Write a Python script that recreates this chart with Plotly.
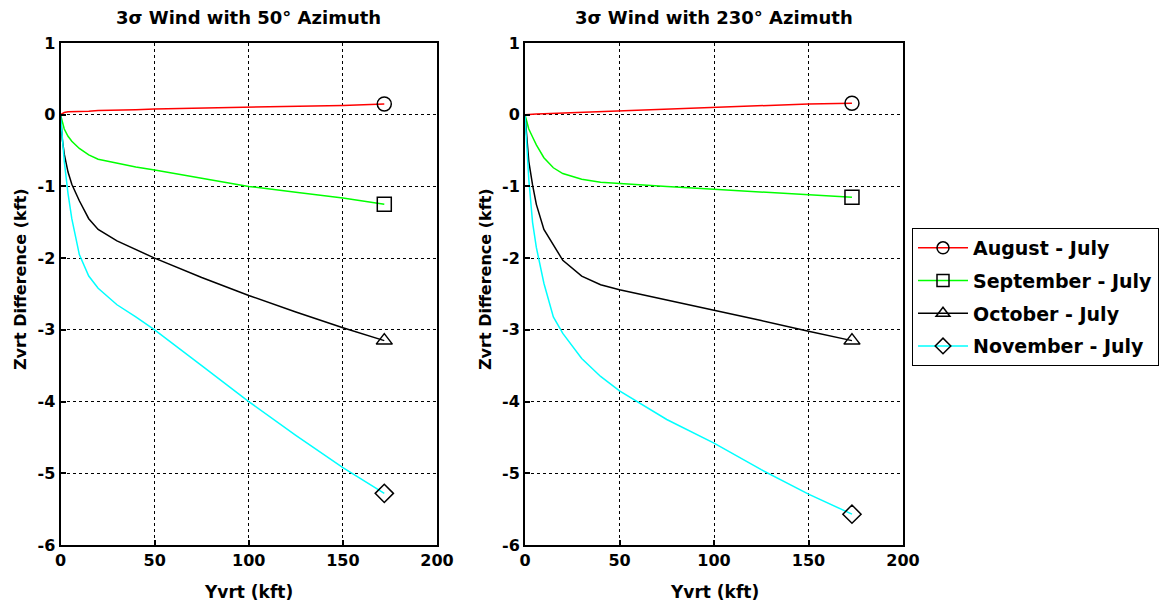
import plotly.graph_objects as go

# ---------------- data ----------------
x_left = [0, 1, 2, 4, 6, 10, 15, 20, 30, 40, 50, 75, 100, 125, 150, 172]
aug_left = [0, 0.02, 0.03, 0.04, 0.04, 0.05, 0.05, 0.06, 0.06, 0.07, 0.08, 0.09, 0.11, 0.12, 0.13, 0.15]
sep_left = [0, -0.12, -0.2, -0.3, -0.37, -0.47, -0.56, -0.62, -0.68, -0.73, -0.77, -0.89, -1.0, -1.08, -1.16, -1.25]
oct_left = [0, -0.35, -0.55, -0.8, -0.97, -1.2, -1.45, -1.6, -1.76, -1.88, -2.0, -2.27, -2.52, -2.75, -2.97, -3.15]
nov_left = [0, -0.4, -0.65, -1.1, -1.45, -1.95, -2.25, -2.42, -2.65, -2.82, -3.0, -3.5, -4.0, -4.47, -4.92, -5.28]

x_right = [0, 1, 2, 4, 6, 10, 15, 20, 30, 40, 50, 75, 100, 125, 150, 173]
aug_right = [0, 0, 0.005, 0.01, 0.01, 0.015, 0.02, 0.025, 0.035, 0.04, 0.05, 0.08, 0.11, 0.13, 0.15, 0.16]
sep_right = [0, -0.12, -0.2, -0.31, -0.42, -0.6, -0.74, -0.82, -0.9, -0.94, -0.96, -1.0, -1.04, -1.08, -1.12, -1.15]
oct_right = [0, -0.4, -0.65, -0.98, -1.25, -1.6, -1.82, -2.03, -2.25, -2.37, -2.44, -2.58, -2.72, -2.87, -3.02, -3.15]
nov_right = [0, -0.5, -0.9, -1.5, -1.85, -2.35, -2.82, -3.05, -3.4, -3.65, -3.85, -4.25, -4.58, -4.95, -5.29, -5.57]

series_names = ["August - July", "September - July", "October - July", "November - July"]
panel_titles = ["3σ Wind with 50° Azimuth", "3σ Wind with 230° Azimuth"]
x_title = "Yvrt (kft)"
y_title = "Zvrt Difference (kft)"
x_ticks = [0, 50, 100, 150, 200]
y_ticks = [1, 0, -1, -2, -3, -4, -5, -6]

# ---------------- styling ----------------
colors = ["#FF0000", "#00FF00", "#000000", "#00FFFF"]
symbols = ["circle-open", "square-open", "triangle-up-open", "diamond-open"]
FONT = "DejaVu Sans, Verdana, sans-serif"

W, H = 1166, 608
dom_x = [[60.5 / W, 437 / W], [525 / W, 903 / W]]
dom_y = [1 - 545 / H, 1 - 43 / H]

fig = go.Figure()

panels = [
    (x_left, [aug_left, sep_left, oct_left, nov_left]),
    (x_right, [aug_right, sep_right, oct_right, nov_right]),
]

for p, (xs, ys_list) in enumerate(panels):
    xa = "x" if p == 0 else "x2"
    ya = "y" if p == 0 else "y2"
    for i, ys in enumerate(ys_list):
        # full curve
        fig.add_trace(go.Scatter(
            x=xs, y=ys, mode="lines",
            line=dict(color=colors[i], width=1.5),
            showlegend=False, legendgroup=series_names[i],
            xaxis=xa, yaxis=ya,
        ))
        # end-point marker
        fig.add_trace(go.Scatter(
            x=xs[-1:], y=ys[-1:], mode="markers",
            marker=dict(symbol=symbols[i], size=14, color="black",
                        line=dict(width=1.5, color="black")),
            showlegend=False, legendgroup=series_names[i],
            xaxis=xa, yaxis=ya,
        ))

# legend entries (line with marker in the middle)
for i, name in enumerate(series_names):
    fig.add_trace(go.Scatter(
        x=[None], y=[None], mode="lines+markers", name=name,
        line=dict(color=colors[i], width=1.5),
        marker=dict(symbol=symbols[i], size=12, color="black",
                    line=dict(width=1.5, color="black")),
        legendgroup=series_names[i], showlegend=True,
        xaxis="x", yaxis="y",
    ))

axis_common = dict(
    showline=True, linecolor="black", linewidth=2, mirror=True,
    showgrid=True, gridcolor="black", gridwidth=1, griddash="dot",
    zeroline=False,
    ticks="inside", ticklen=5, tickwidth=2, tickcolor="black",
    tickfont=dict(family=FONT, size=16, color="black", weight="bold"),
    automargin=False,
)

for p in range(2):
    sx = "" if p == 0 else "2"
    fig.update_layout(**{
        "xaxis" + sx: dict(axis_common, domain=dom_x[p], range=[0, 200],
                           tickvals=x_ticks, ticktext=[str(v) for v in x_ticks],
                           anchor="y" + sx),
        "yaxis" + sx: dict(axis_common, domain=dom_y, range=[-6, 1],
                           tickvals=y_ticks, ticktext=[str(v) for v in y_ticks],
                           anchor="x" + sx),
    })
    cx = (dom_x[p][0] + dom_x[p][1]) / 2
    fig.add_annotation(text=panel_titles[p], x=cx, y=1 - 18 / H, xref="paper", yref="paper",
                       xanchor="center", yanchor="middle", showarrow=False,
                       font=dict(family=FONT, size=18, color="black", weight="bold"))
    fig.add_annotation(text=x_title, x=cx, y=1 - 592 / H, xref="paper", yref="paper",
                       xanchor="center", yanchor="middle", showarrow=False,
                       font=dict(family=FONT, size=17, color="black", weight="bold"))
    ylx = [21, 486][p]
    fig.add_annotation(text=y_title, x=ylx / W, y=1 - 279 / H, xref="paper", yref="paper",
                       xanchor="center", yanchor="middle", showarrow=False, textangle=-90,
                       font=dict(family=FONT, size=16, color="black", weight="bold"))

fig.update_layout(
    width=W, height=H,
    margin=dict(l=0, r=0, t=0, b=0),
    paper_bgcolor="white", plot_bgcolor="white",
    showlegend=True,
    legend=dict(x=912 / W, y=1 - 228 / H, xanchor="left", yanchor="top",
                bgcolor="white", bordercolor="black", borderwidth=1,
                tracegroupgap=5, itemwidth=50,
                font=dict(family=FONT, size=19, color="black", weight="bold")),
)

fig.write_html("out.html")
